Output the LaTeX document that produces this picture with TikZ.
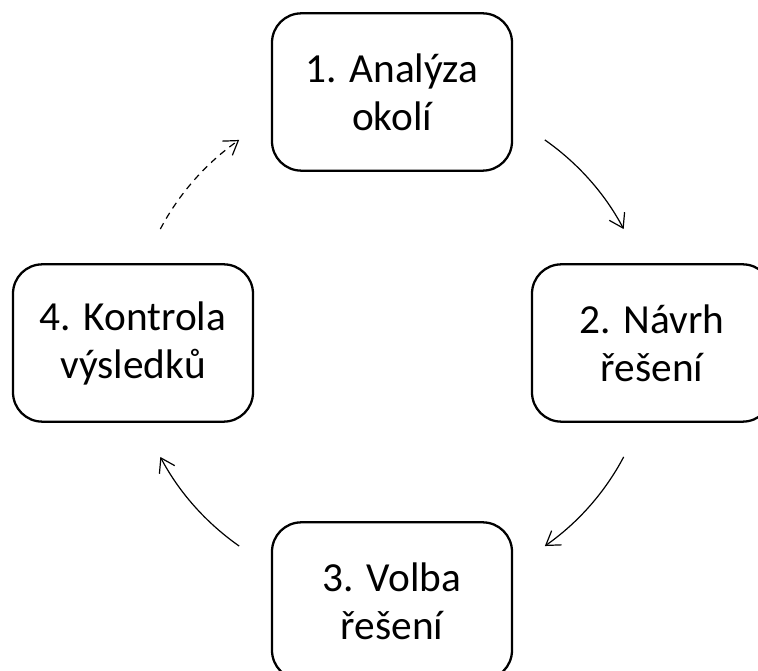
\documentclass[tikz,border=0pt]{standalone}
\usepackage{fontspec}
\setmainfont{Carlito}
\usetikzlibrary{arrows.meta, positioning}

\tikzset{
  stage/.style={draw, line width=1.7pt, rounded corners=22pt,
                minimum width=180pt, minimum height=118pt,
                align=center, font=\fontsize{31}{36}\selectfont},
  flow/.style={line width=0.9pt, -{Straight Barb[length=10pt, width=13pt]}},
}

\begin{document}
\begin{tikzpicture}[x=0.75pt, y=0.75pt]
  \useasboundingbox (0,0) rectangle (758,671);
  \clip (0,0) rectangle (758,671);

  \coordinate (hub) at (392,328);

  % the four steps
  \node[stage] (analyza)  at (392,579) {1. Analýza\\okolí};
  \node[stage] (navrh)    at (652,328) {2. Návrh\\řešení};
  \node[stage] (volba)    at (392,70)  {3. Volba\\řešení};
  \node[stage] (kontrola) at (133,328) {4. Kontrola\\výsledků};

  % cycle arrows
  \draw[flow] ([shift={(54:260 and 251)}]hub)
      arc[start angle=54, end angle=27, x radius=260, y radius=251];
  \draw[flow] ([shift={(-27:260 and 251)}]hub)
      arc[start angle=-27, end angle=-54, x radius=260, y radius=251];
  \draw[flow] ([shift={(-126:260 and 251)}]hub)
      arc[start angle=-126, end angle=-153, x radius=260, y radius=251];
  \draw[flow, dash pattern=on 5pt off 4pt] ([shift={(153:260 and 251)}]hub)
      arc[start angle=153, end angle=126, x radius=260, y radius=251];
\end{tikzpicture}
\end{document}
